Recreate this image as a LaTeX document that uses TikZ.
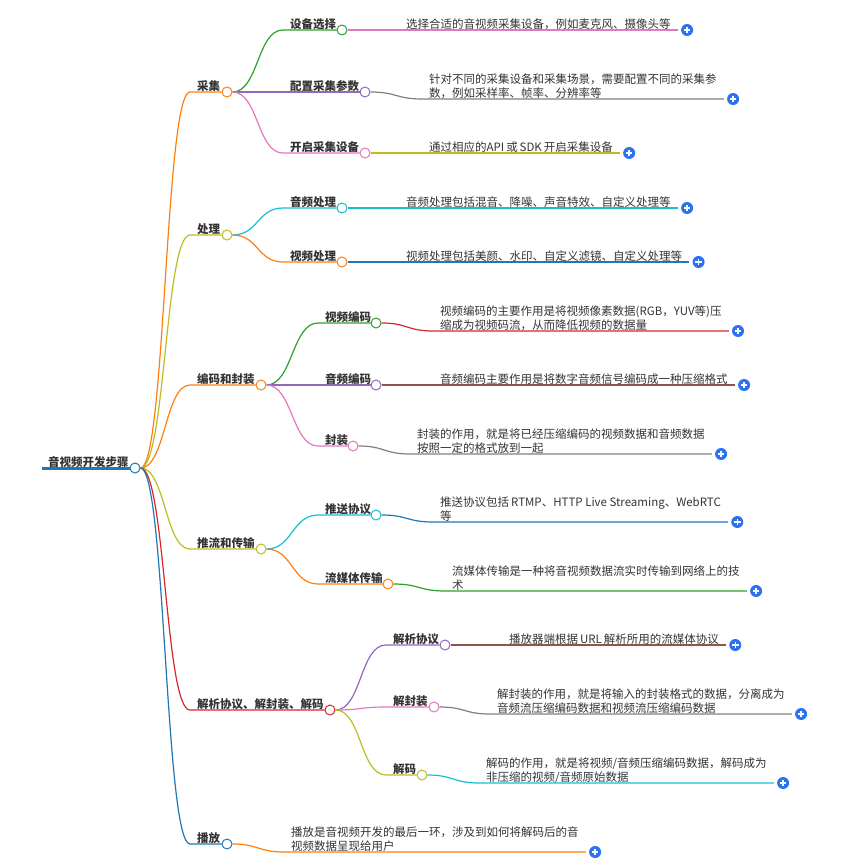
\documentclass[tikz,border=0pt]{standalone}
\usepackage{fontspec}
\setmainfont{Noto Sans CJK SC}
\usetikzlibrary{positioning}
\definecolor{ink}{HTML}{333333}
\definecolor{cBlue}{HTML}{1F77B4}
\definecolor{cOrange}{HTML}{FF7F0E}
\definecolor{cGreen}{HTML}{2CA02C}
\definecolor{cRed}{HTML}{D62728}
\definecolor{cPurple}{HTML}{9467BD}
\definecolor{cBrown}{HTML}{8C564B}
\definecolor{cPink}{HTML}{E377C2}
\definecolor{cGray}{HTML}{7F7F7F}
\definecolor{cOlive}{HTML}{BCBD22}
\definecolor{cCyan}{HTML}{17BECF}
\definecolor{btnblue}{HTML}{2A72F0}

\begin{document}
\begin{tikzpicture}[x=1pt,y=-1pt,
  topic/.style={anchor=south west,inner xsep=7pt,inner ysep=1.5pt,text depth=0pt,text=ink,
    font=\fontsize{11.5pt}{14pt}\selectfont\bfseries},
  leaf/.style={anchor=south west,inner xsep=7pt,inner ysep=1.5pt,text depth=0pt,align=left,text=ink,
    font=\fontsize{11.5pt}{14pt}\selectfont},
  dot/.style={circle,draw=#1,fill=white,line width=1pt,minimum size=10pt,inner sep=0pt},
  link/.style={draw=#1,line width=1.2pt},
  addbtn/.style={circle,fill=btnblue,minimum size=12pt,inner sep=0pt,
    path picture={\draw[white,line width=1.4pt]
      ([xshift=-3.3pt]path picture bounding box.center) -- ++(6.6pt,0)
      ([yshift=-3.3pt]path picture bounding box.center) -- ++(0,6.6pt);}}
]
\useasboundingbox (0,0) rectangle (841,861);

% root
\node[topic,inner xsep=6pt] (tRoot) at (42,468) {音视频开发步骤};
\node[dot=cBlue] (root) at (135,468) {};
\draw[cBlue,line width=3pt] (tRoot.south west) -- (root.west);

% main branches
\node[topic] (tA) at (190,92) {采集};
\node[dot=cOrange] (A) at (227,92) {};
\node[topic] (tB) at (190,235) {处理};
\node[dot=cOlive] (B) at (227,235) {};
\node[topic] (tC) at (190,385) {编码和封装};
\node[dot=cOrange] (C) at (261,385) {};
\node[topic] (tD) at (190,549) {推流和传输};
\node[dot=cOlive] (D) at (261,549) {};
\node[topic] (tE) at (190,710) {解析协议、解封装、解码};
\node[dot=cRed] (E) at (330,710) {};
\node[topic] (tF) at (190,844) {播放};
\node[dot=cBlue] (F) at (227,844) {};

\draw[link=cOrange] (root.east) .. controls +(25,0) and +(-25,0) .. (tA.south west) -- (A.west);
\draw[link=cOlive] (root.east) .. controls +(25,0) and +(-25,0) .. (tB.south west) -- (B.west);
\draw[link=cOrange] (root.east) .. controls +(25,0) and +(-25,0) .. (tC.south west) -- (C.west);
\draw[link=cOlive] (root.east) .. controls +(25,0) and +(-25,0) .. (tD.south west) -- (D.west);
\draw[link=cRed] (root.east) .. controls +(25,0) and +(-25,0) .. (tE.south west) -- (E.west);
\draw[link=cBlue] (root.east) .. controls +(25,0) and +(-25,0) .. (tF.south west) -- (F.west);

% sub topics
\node[topic] (tA1) at (283,30) {设备选择};
\node[dot=cGreen] (A1) at (342,30) {};
\node[topic] (tA2) at (283,92) {配置采集参数};
\node[dot=cPurple] (A2) at (365,92) {};
\node[topic] (tA3) at (283,153) {开启采集设备};
\node[dot=cPink] (A3) at (365,153) {};
\node[topic] (tB1) at (283,208) {音频处理};
\node[dot=cCyan] (B1) at (342,208) {};
\node[topic] (tB2) at (283,262) {视频处理};
\node[dot=cOrange] (B2) at (342,262) {};
\node[topic] (tC1) at (318,323) {视频编码};
\node[dot=cGreen] (C1) at (376,323) {};
\node[topic] (tC2) at (318,385) {音频编码};
\node[dot=cPurple] (C2) at (376,385) {};
\node[topic] (tC3) at (318,446) {封装};
\node[dot=cPink] (C3) at (353,446) {};
\node[topic] (tD1) at (318,515) {推送协议};
\node[dot=cCyan] (D1) at (376,515) {};
\node[topic] (tD2) at (318,584) {流媒体传输};
\node[dot=cOrange] (D2) at (388,584) {};
\node[topic] (tE1) at (386,645) {解析协议};
\node[dot=cPurple] (E1) at (445,645) {};
\node[topic] (tE2) at (386,707) {解封装};
\node[dot=cPink] (E2) at (434,707) {};
\node[topic] (tE3) at (386,775) {解码};
\node[dot=cOlive] (E3) at (422,775) {};

\draw[link=cGreen] (A.east) .. controls +(26,0) and +(-26,0) .. (tA1.south west) -- (A1.west);
\draw[link=cPurple] (A.east) -- (A2.west);
\draw[link=cPink] (A.east) .. controls +(26,0) and +(-26,0) .. (tA3.south west) -- (A3.west);
\draw[link=cCyan] (B.east) .. controls +(26,0) and +(-26,0) .. (tB1.south west) -- (B1.west);
\draw[link=cOrange] (B.east) .. controls +(26,0) and +(-26,0) .. (tB2.south west) -- (B2.west);
\draw[link=cGreen] (C.east) .. controls +(26,0) and +(-26,0) .. (tC1.south west) -- (C1.west);
\draw[link=cPurple] (C.east) -- (C2.west);
\draw[link=cPink] (C.east) .. controls +(26,0) and +(-26,0) .. (tC3.south west) -- (C3.west);
\draw[link=cCyan] (D.east) .. controls +(26,0) and +(-26,0) .. (tD1.south west) -- (D1.west);
\draw[link=cOrange] (D.east) .. controls +(26,0) and +(-26,0) .. (tD2.south west) -- (D2.west);
\draw[link=cPurple] (E.east) .. controls +(26,0) and +(-26,0) .. (tE1.south west) -- (E1.west);
\draw[link=cPink] (E.east) .. controls +(26,0) and +(-26,0) .. (tE2.south west) -- (E2.west);
\draw[link=cOlive] (E.east) .. controls +(26,0) and +(-26,0) .. (tE3.south west) -- (E3.west);

% leaves
\node[leaf] (lA1) at (399,30) {选择合适的音视频采集设备，例如麦克风、摄像头等};
\node[leaf] (lA2) at (422,99) {针对不同的采集设备和采集场景，需要配置不同的采集参\\数，例如采样率、帧率、分辨率等};
\node[leaf] (lA3) at (422,153) {通过相应的API\,或\,SDK\,开启采集设备};
\node[leaf] (lB1) at (399,208) {音频处理包括混音、降噪、声音特效、自定义处理等};
\node[leaf] (lB2) at (399,262) {视频处理包括美颜、水印、自定义滤镜、自定义处理等};
\node[leaf] (lC1) at (433,331) {视频编码的主要作用是将视频像素数据(RGB，YUV等)压\\缩成为视频码流，从而降低视频的数据量};
\node[leaf] (lC2) at (433,385) {音频编码主要作用是将数字音频信号编码成一种压缩格式};
\node[leaf] (lC3) at (410,454) {封装的作用，就是将已经压缩编码的视频数据和音频数据\\按照一定的格式放到一起};
\node[leaf] (lD1) at (433,522) {推送协议包括\,RTMP、HTTP Live Streaming、WebRTC\\等};
\node[leaf] (lD2) at (445,591) {流媒体传输是一种将音视频数据流实时传输到网络上的技\\术};
\node[leaf] (lE1) at (502,645) {播放器端根据\,URL\,解析所用的流媒体协议};
\node[leaf] (lE2) at (490,714) {解封装的作用，就是将输入的封装格式的数据，分离成为\\音频流压缩编码数据和视频流压缩编码数据};
\node[leaf] (lE3) at (479,783) {解码的作用，就是将视频/音频压缩编码数据，解码成为\\非压缩的视频/音频原始数据};
\node[leaf] (lF1) at (284,852) {播放是音视频开发的最后一环，涉及到如何将解码后的音\\视频数据呈现给用户};

\draw[link=cPink] (A1.east) -- (lA1.south west) -- (lA1.south east);
\draw[link=cGray] (A2.east) .. controls +(26,0) and +(-26,0) .. (lA2.south west) -- (lA2.south east);
\draw[link=cOlive] (A3.east) -- (lA3.south west) -- (lA3.south east);
\draw[link=cCyan] (B1.east) -- (lB1.south west) -- (lB1.south east);
\draw[link=cBlue] (B2.east) -- (lB2.south west) -- (lB2.south east);
\draw[link=cRed] (C1.east) .. controls +(26,0) and +(-26,0) .. (lC1.south west) -- (lC1.south east);
\draw[link=cBrown] (C2.east) -- (lC2.south west) -- (lC2.south east);
\draw[link=cGray] (C3.east) .. controls +(26,0) and +(-26,0) .. (lC3.south west) -- (lC3.south east);
\draw[link=cBlue] (D1.east) .. controls +(26,0) and +(-26,0) .. (lD1.south west) -- (lD1.south east);
\draw[link=cGreen] (D2.east) .. controls +(26,0) and +(-26,0) .. (lD2.south west) -- (lD2.south east);
\draw[link=cBrown] (E1.east) -- (lE1.south west) -- (lE1.south east);
\draw[link=cGray] (E2.east) .. controls +(26,0) and +(-26,0) .. (lE2.south west) -- (lE2.south east);
\draw[link=cCyan] (E3.east) .. controls +(26,0) and +(-26,0) .. (lE3.south west) -- (lE3.south east);
\draw[link=cOrange] (F.east) .. controls +(26,0) and +(-26,0) .. (lF1.south west) -- (lF1.south east);

% expand buttons
\node[addbtn,right=3pt of lA1.south east] (pA1) {};
\node[addbtn,right=3pt of lA2.south east] (pA2) {};
\node[addbtn,right=3pt of lA3.south east] (pA3) {};
\node[addbtn,right=3pt of lB1.south east] (pB1) {};
\node[addbtn,right=3pt of lB2.south east] (pB2) {};
\node[addbtn,right=3pt of lC1.south east] (pC1) {};
\node[addbtn,right=3pt of lC2.south east] (pC2) {};
\node[addbtn,right=3pt of lC3.south east] (pC3) {};
\node[addbtn,right=3pt of lD1.south east] (pD1) {};
\node[addbtn,right=3pt of lD2.south east] (pD2) {};
\node[addbtn,right=3pt of lE1.south east] (pE1) {};
\node[addbtn,right=3pt of lE2.south east] (pE2) {};
\node[addbtn,right=3pt of lE3.south east] (pE3) {};
\node[addbtn,right=3pt of lF1.south east] (pF1) {};
\end{tikzpicture}
\end{document}
